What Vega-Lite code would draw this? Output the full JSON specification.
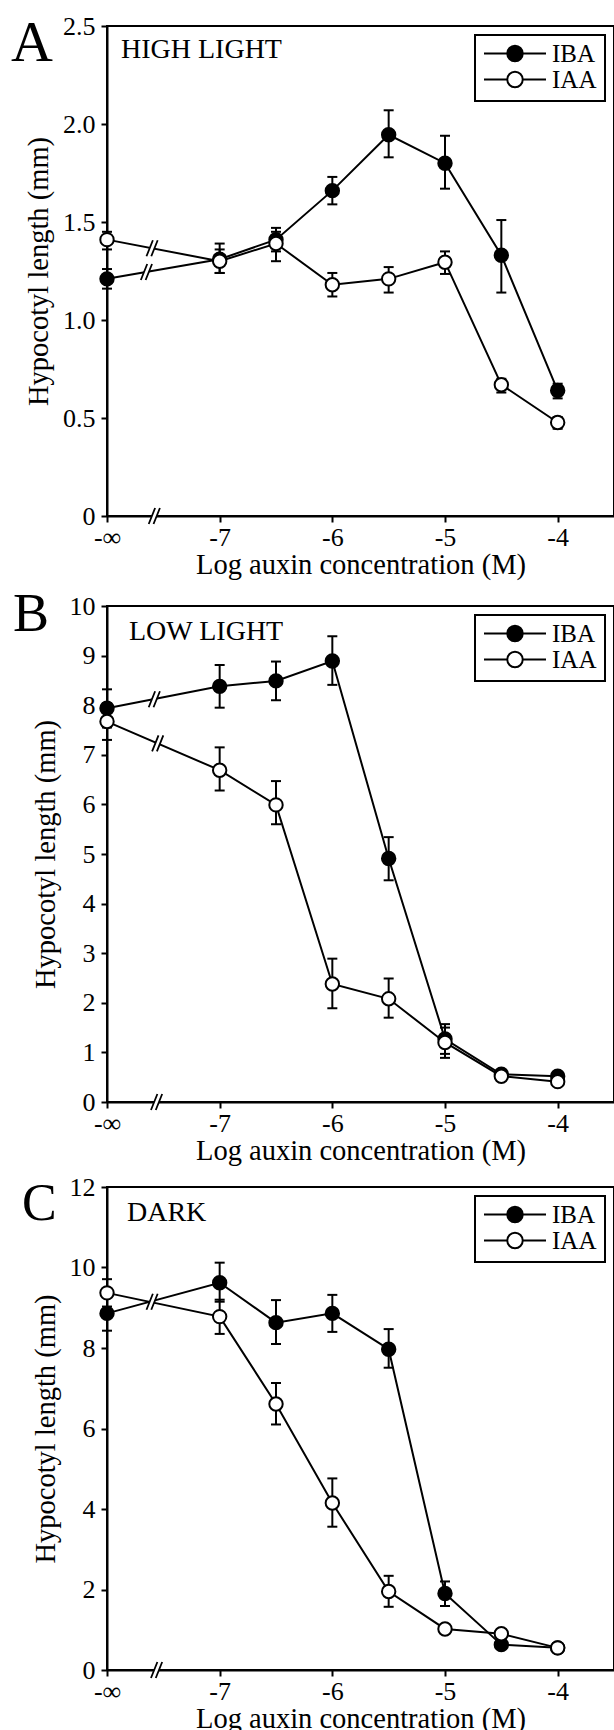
{
  "$schema": "https://vega.github.io/schema/vega-lite/v6.json",
  "background": "white",
  "padding": {"left": 10, "top": 12, "right": 0, "bottom": 0},
  "datasets": {
    "pts": [
      {"panel": "A", "series": "IBA", "x": -8, "y": 1.21, "lo": 1.16, "hi": 1.26},
      {"panel": "A", "series": "IBA", "x": -7, "y": 1.31, "lo": 1.24, "hi": 1.39},
      {"panel": "A", "series": "IBA", "x": -6.5, "y": 1.41, "lo": 1.35, "hi": 1.47},
      {"panel": "A", "series": "IBA", "x": -6, "y": 1.66, "lo": 1.59, "hi": 1.73},
      {"panel": "A", "series": "IBA", "x": -5.5, "y": 1.945, "lo": 1.83, "hi": 2.07},
      {"panel": "A", "series": "IBA", "x": -5, "y": 1.8, "lo": 1.67, "hi": 1.94},
      {"panel": "A", "series": "IBA", "x": -4.5, "y": 1.33, "lo": 1.14, "hi": 1.51},
      {"panel": "A", "series": "IBA", "x": -4, "y": 0.64, "lo": 0.6, "hi": 0.675},
      {"panel": "A", "series": "IAA", "x": -8, "y": 1.41, "lo": 1.36, "hi": 1.45},
      {"panel": "A", "series": "IAA", "x": -7, "y": 1.3, "lo": 1.24, "hi": 1.36},
      {"panel": "A", "series": "IAA", "x": -6.5, "y": 1.39, "lo": 1.3, "hi": 1.45},
      {"panel": "A", "series": "IAA", "x": -6, "y": 1.18, "lo": 1.12, "hi": 1.24},
      {"panel": "A", "series": "IAA", "x": -5.5, "y": 1.21, "lo": 1.14, "hi": 1.27},
      {"panel": "A", "series": "IAA", "x": -5, "y": 1.295, "lo": 1.235, "hi": 1.35},
      {"panel": "A", "series": "IAA", "x": -4.5, "y": 0.67, "lo": 0.63, "hi": 0.7},
      {"panel": "A", "series": "IAA", "x": -4, "y": 0.477, "lo": 0.445, "hi": 0.505},
      {"panel": "B", "series": "IBA", "x": -8, "y": 7.94, "lo": 7.55, "hi": 8.32},
      {"panel": "B", "series": "IBA", "x": -7, "y": 8.38, "lo": 7.95, "hi": 8.81},
      {"panel": "B", "series": "IBA", "x": -6.5, "y": 8.49, "lo": 8.1, "hi": 8.88},
      {"panel": "B", "series": "IBA", "x": -6, "y": 8.89, "lo": 8.41, "hi": 9.39},
      {"panel": "B", "series": "IBA", "x": -5.5, "y": 4.91, "lo": 4.47, "hi": 5.34},
      {"panel": "B", "series": "IBA", "x": -5, "y": 1.27, "lo": 0.97, "hi": 1.57},
      {"panel": "B", "series": "IBA", "x": -4.5, "y": 0.56, "lo": 0.52, "hi": 0.6},
      {"panel": "B", "series": "IBA", "x": -4, "y": 0.52, "lo": 0.48, "hi": 0.56},
      {"panel": "B", "series": "IAA", "x": -8, "y": 7.67, "lo": 7.3, "hi": 8.04},
      {"panel": "B", "series": "IAA", "x": -7, "y": 6.69, "lo": 6.28, "hi": 7.15},
      {"panel": "B", "series": "IAA", "x": -6.5, "y": 5.99, "lo": 5.6, "hi": 6.47},
      {"panel": "B", "series": "IAA", "x": -6, "y": 2.38, "lo": 1.89, "hi": 2.89},
      {"panel": "B", "series": "IAA", "x": -5.5, "y": 2.08, "lo": 1.7, "hi": 2.49},
      {"panel": "B", "series": "IAA", "x": -5, "y": 1.2, "lo": 0.89, "hi": 1.5},
      {"panel": "B", "series": "IAA", "x": -4.5, "y": 0.52, "lo": 0.48, "hi": 0.56},
      {"panel": "B", "series": "IAA", "x": -4, "y": 0.41, "lo": 0.37, "hi": 0.45},
      {"panel": "C", "series": "IBA", "x": -8, "y": 8.86, "lo": 8.43, "hi": 9.29},
      {"panel": "C", "series": "IBA", "x": -7, "y": 9.62, "lo": 9.15, "hi": 10.12},
      {"panel": "C", "series": "IBA", "x": -6.5, "y": 8.63, "lo": 8.1, "hi": 9.19},
      {"panel": "C", "series": "IBA", "x": -6, "y": 8.86, "lo": 8.4, "hi": 9.32},
      {"panel": "C", "series": "IBA", "x": -5.5, "y": 7.97, "lo": 7.51, "hi": 8.47},
      {"panel": "C", "series": "IBA", "x": -5, "y": 1.9, "lo": 1.59, "hi": 2.2},
      {"panel": "C", "series": "IBA", "x": -4.5, "y": 0.63, "lo": 0.6, "hi": 0.66},
      {"panel": "C", "series": "IBA", "x": -4, "y": 0.55, "lo": 0.55, "hi": 0.55},
      {"panel": "C", "series": "IAA", "x": -8, "y": 9.37, "lo": 9.03, "hi": 9.71},
      {"panel": "C", "series": "IAA", "x": -7, "y": 8.78, "lo": 8.35, "hi": 9.2},
      {"panel": "C", "series": "IAA", "x": -6.5, "y": 6.61, "lo": 6.1, "hi": 7.13},
      {"panel": "C", "series": "IAA", "x": -6, "y": 4.15, "lo": 3.56, "hi": 4.76},
      {"panel": "C", "series": "IAA", "x": -5.5, "y": 1.95, "lo": 1.57, "hi": 2.34},
      {"panel": "C", "series": "IAA", "x": -5, "y": 1.02, "lo": 1.02, "hi": 1.02},
      {"panel": "C", "series": "IAA", "x": -4.5, "y": 0.9, "lo": 0.9, "hi": 0.9},
      {"panel": "C", "series": "IAA", "x": -4, "y": 0.55, "lo": 0.55, "hi": 0.55}
    ],
    "brk": [
      {"panel": "A", "x": -7.58, "y": 0},
      {"panel": "A", "x": -7.6, "y": 1.366},
      {"panel": "A", "x": -7.65, "y": 1.245},
      {"panel": "B", "x": -7.56, "y": 0},
      {"panel": "B", "x": -7.58, "y": 8.12},
      {"panel": "B", "x": -7.55, "y": 7.23},
      {"panel": "C", "x": -7.56, "y": 0},
      {"panel": "C", "x": -7.6, "y": 9.15}
    ],
    "notes": [
      {"panel": "A", "role": "letter", "label": "A"},
      {"panel": "A", "role": "note", "label": "HIGH LIGHT"},
      {"panel": "B", "role": "letter", "label": "B"},
      {"panel": "B", "role": "note", "label": "LOW LIGHT"},
      {"panel": "C", "role": "letter", "label": "C"},
      {"panel": "C", "role": "note", "label": "DARK"}
    ]
  },
  "spacing": 7,
  "resolve": {"scale": {"y": "independent", "fill": "independent"}, "legend": {"fill": "independent"}},
  "vconcat": [
    {
      "width": 507, "height": 490,
      "layer": [
        {"data": {"name": "pts"}, "transform": [{"filter": "datum.panel == 'A'"}],
         "mark": {"type": "line", "color": "black", "strokeWidth": 2},
         "encoding": {"x": {"field": "x", "type": "quantitative", "title": "Log auxin concentration (M)",
                            "scale": {"domain": [-8, -3.5], "nice": false, "zero": false},
                            "axis": {"values": [-8, -7, -6, -5, -4], "labelExpr": "datum.value == -8 ? '-∞' : '-' + abs(datum.value)"}},
                      "y": {"field": "y", "type": "quantitative", "title": "Hypocotyl length (mm)",
                            "scale": {"domain": [0, 2.5], "nice": false},
                            "axis": {"values": [0, 0.5, 1, 1.5, 2, 2.5], "labelExpr": "datum.value == 0 ? '0' : format(datum.value, '.1f')"}},
                      "detail": {"field": "series"}}},
        {"data": {"name": "pts"}, "transform": [{"filter": "datum.panel == 'A'"}],
         "mark": {"type": "rule", "color": "black", "strokeWidth": 2},
         "encoding": {"x": {"field": "x", "type": "quantitative", "title": "Log auxin concentration (M)"},
                      "y": {"field": "lo", "type": "quantitative", "title": "Hypocotyl length (mm)"}, "y2": {"field": "hi"}}},
        {"data": {"name": "pts"}, "transform": [{"filter": "datum.panel == 'A'"}, {"fold": ["lo", "hi"], "as": ["end", "v"]}],
         "mark": {"type": "point", "shape": "M-1,0L1,0", "size": 100, "filled": false, "stroke": "black", "strokeWidth": 2, "opacity": 1},
         "encoding": {"x": {"field": "x", "type": "quantitative", "title": "Log auxin concentration (M)"},
                      "y": {"field": "v", "type": "quantitative", "title": "Hypocotyl length (mm)"}}},
        {"data": {"name": "brk"}, "transform": [{"filter": "datum.panel == 'A'"}],
         "mark": {"type": "point", "shape": "M-0.7,1L0.1,-1L0.7,-1L-0.1,1Z", "size": 256, "filled": true, "fill": "white", "strokeWidth": 0, "opacity": 1},
         "encoding": {"x": {"field": "x", "type": "quantitative", "title": "Log auxin concentration (M)"},
                      "y": {"field": "y", "type": "quantitative", "title": "Hypocotyl length (mm)"}}},
        {"data": {"name": "brk"}, "transform": [{"filter": "datum.panel == 'A'"}],
         "mark": {"type": "point", "shape": "M-0.7,1L0.1,-1M-0.1,1L0.7,-1", "size": 256, "filled": false, "stroke": "black", "strokeWidth": 1.8, "opacity": 1},
         "encoding": {"x": {"field": "x", "type": "quantitative", "title": "Log auxin concentration (M)"},
                      "y": {"field": "y", "type": "quantitative", "title": "Hypocotyl length (mm)"}}},
        {"data": {"name": "pts"}, "transform": [{"filter": "datum.panel == 'A'"}],
         "mark": {"type": "point", "shape": "circle", "size": 180, "filled": true, "stroke": "black", "strokeWidth": 2, "opacity": 1},
         "encoding": {"x": {"field": "x", "type": "quantitative", "title": "Log auxin concentration (M)"},
                      "y": {"field": "y", "type": "quantitative", "title": "Hypocotyl length (mm)"},
                      "fill": {"field": "series", "type": "nominal", "scale": {"domain": ["IBA", "IAA"], "range": ["black", "white"]}, "legend": {"title": null}}}},
        {"data": {"name": "notes"}, "transform": [{"filter": "datum.panel == 'A' && datum.role == 'letter'"}],
         "mark": {"type": "text", "fontSize": 58, "align": "left", "baseline": "alphabetic", "dx": -96, "dy": 35},
         "encoding": {"x": {"datum": -8, "type": "quantitative"}, "y": {"datum": 2.5, "type": "quantitative"}, "text": {"field": "label"}}},
        {"data": {"name": "notes"}, "transform": [{"filter": "datum.panel == 'A' && datum.role == 'note'"}],
         "mark": {"type": "text", "fontSize": 28, "align": "left", "baseline": "alphabetic", "dx": 14, "dy": 32},
         "encoding": {"x": {"datum": -8, "type": "quantitative"}, "y": {"datum": 2.5, "type": "quantitative"}, "text": {"field": "label"}}}
      ]
    },
    {
      "width": 507, "height": 496,
      "layer": [
        {"data": {"name": "pts"}, "transform": [{"filter": "datum.panel == 'B'"}],
         "mark": {"type": "line", "color": "black", "strokeWidth": 2},
         "encoding": {"x": {"field": "x", "type": "quantitative", "title": "Log auxin concentration (M)",
                            "scale": {"domain": [-8, -3.5], "nice": false, "zero": false},
                            "axis": {"values": [-8, -7, -6, -5, -4], "labelExpr": "datum.value == -8 ? '-∞' : '-' + abs(datum.value)"}},
                      "y": {"field": "y", "type": "quantitative", "title": "Hypocotyl length (mm)",
                            "scale": {"domain": [0, 10], "nice": false},
                            "axis": {"values": [0, 1, 2, 3, 4, 5, 6, 7, 8, 9, 10]}},
                      "detail": {"field": "series"}}},
        {"data": {"name": "pts"}, "transform": [{"filter": "datum.panel == 'B'"}],
         "mark": {"type": "rule", "color": "black", "strokeWidth": 2},
         "encoding": {"x": {"field": "x", "type": "quantitative", "title": "Log auxin concentration (M)"},
                      "y": {"field": "lo", "type": "quantitative", "title": "Hypocotyl length (mm)"}, "y2": {"field": "hi"}}},
        {"data": {"name": "pts"}, "transform": [{"filter": "datum.panel == 'B'"}, {"fold": ["lo", "hi"], "as": ["end", "v"]}],
         "mark": {"type": "point", "shape": "M-1,0L1,0", "size": 100, "filled": false, "stroke": "black", "strokeWidth": 2, "opacity": 1},
         "encoding": {"x": {"field": "x", "type": "quantitative", "title": "Log auxin concentration (M)"},
                      "y": {"field": "v", "type": "quantitative", "title": "Hypocotyl length (mm)"}}},
        {"data": {"name": "brk"}, "transform": [{"filter": "datum.panel == 'B'"}],
         "mark": {"type": "point", "shape": "M-0.7,1L0.1,-1L0.7,-1L-0.1,1Z", "size": 256, "filled": true, "fill": "white", "strokeWidth": 0, "opacity": 1},
         "encoding": {"x": {"field": "x", "type": "quantitative", "title": "Log auxin concentration (M)"},
                      "y": {"field": "y", "type": "quantitative", "title": "Hypocotyl length (mm)"}}},
        {"data": {"name": "brk"}, "transform": [{"filter": "datum.panel == 'B'"}],
         "mark": {"type": "point", "shape": "M-0.7,1L0.1,-1M-0.1,1L0.7,-1", "size": 256, "filled": false, "stroke": "black", "strokeWidth": 1.8, "opacity": 1},
         "encoding": {"x": {"field": "x", "type": "quantitative", "title": "Log auxin concentration (M)"},
                      "y": {"field": "y", "type": "quantitative", "title": "Hypocotyl length (mm)"}}},
        {"data": {"name": "pts"}, "transform": [{"filter": "datum.panel == 'B'"}],
         "mark": {"type": "point", "shape": "circle", "size": 180, "filled": true, "stroke": "black", "strokeWidth": 2, "opacity": 1},
         "encoding": {"x": {"field": "x", "type": "quantitative", "title": "Log auxin concentration (M)"},
                      "y": {"field": "y", "type": "quantitative", "title": "Hypocotyl length (mm)"},
                      "fill": {"field": "series", "type": "nominal", "scale": {"domain": ["IBA", "IAA"], "range": ["black", "white"]}, "legend": {"title": null}}}},
        {"data": {"name": "notes"}, "transform": [{"filter": "datum.panel == 'B' && datum.role == 'letter'"}],
         "mark": {"type": "text", "fontSize": 54, "align": "left", "baseline": "alphabetic", "dx": -94, "dy": 25},
         "encoding": {"x": {"datum": -8, "type": "quantitative"}, "y": {"datum": 10, "type": "quantitative"}, "text": {"field": "label"}}},
        {"data": {"name": "notes"}, "transform": [{"filter": "datum.panel == 'B' && datum.role == 'note'"}],
         "mark": {"type": "text", "fontSize": 28, "align": "left", "baseline": "alphabetic", "dx": 22, "dy": 34},
         "encoding": {"x": {"datum": -8, "type": "quantitative"}, "y": {"datum": 10, "type": "quantitative"}, "text": {"field": "label"}}}
      ]
    },
    {
      "width": 507, "height": 483,
      "layer": [
        {"data": {"name": "pts"}, "transform": [{"filter": "datum.panel == 'C'"}],
         "mark": {"type": "line", "color": "black", "strokeWidth": 2},
         "encoding": {"x": {"field": "x", "type": "quantitative", "title": "Log auxin concentration (M)",
                            "scale": {"domain": [-8, -3.5], "nice": false, "zero": false},
                            "axis": {"values": [-8, -7, -6, -5, -4], "labelExpr": "datum.value == -8 ? '-∞' : '-' + abs(datum.value)"}},
                      "y": {"field": "y", "type": "quantitative", "title": "Hypocotyl length (mm)",
                            "scale": {"domain": [0, 12], "nice": false},
                            "axis": {"values": [0, 2, 4, 6, 8, 10, 12]}},
                      "detail": {"field": "series"}}},
        {"data": {"name": "pts"}, "transform": [{"filter": "datum.panel == 'C'"}],
         "mark": {"type": "rule", "color": "black", "strokeWidth": 2},
         "encoding": {"x": {"field": "x", "type": "quantitative", "title": "Log auxin concentration (M)"},
                      "y": {"field": "lo", "type": "quantitative", "title": "Hypocotyl length (mm)"}, "y2": {"field": "hi"}}},
        {"data": {"name": "pts"}, "transform": [{"filter": "datum.panel == 'C'"}, {"fold": ["lo", "hi"], "as": ["end", "v"]}],
         "mark": {"type": "point", "shape": "M-1,0L1,0", "size": 100, "filled": false, "stroke": "black", "strokeWidth": 2, "opacity": 1},
         "encoding": {"x": {"field": "x", "type": "quantitative", "title": "Log auxin concentration (M)"},
                      "y": {"field": "v", "type": "quantitative", "title": "Hypocotyl length (mm)"}}},
        {"data": {"name": "brk"}, "transform": [{"filter": "datum.panel == 'C'"}],
         "mark": {"type": "point", "shape": "M-0.7,1L0.1,-1L0.7,-1L-0.1,1Z", "size": 256, "filled": true, "fill": "white", "strokeWidth": 0, "opacity": 1},
         "encoding": {"x": {"field": "x", "type": "quantitative", "title": "Log auxin concentration (M)"},
                      "y": {"field": "y", "type": "quantitative", "title": "Hypocotyl length (mm)"}}},
        {"data": {"name": "brk"}, "transform": [{"filter": "datum.panel == 'C'"}],
         "mark": {"type": "point", "shape": "M-0.7,1L0.1,-1M-0.1,1L0.7,-1", "size": 256, "filled": false, "stroke": "black", "strokeWidth": 1.8, "opacity": 1},
         "encoding": {"x": {"field": "x", "type": "quantitative", "title": "Log auxin concentration (M)"},
                      "y": {"field": "y", "type": "quantitative", "title": "Hypocotyl length (mm)"}}},
        {"data": {"name": "pts"}, "transform": [{"filter": "datum.panel == 'C'"}],
         "mark": {"type": "point", "shape": "circle", "size": 180, "filled": true, "stroke": "black", "strokeWidth": 2, "opacity": 1},
         "encoding": {"x": {"field": "x", "type": "quantitative", "title": "Log auxin concentration (M)"},
                      "y": {"field": "y", "type": "quantitative", "title": "Hypocotyl length (mm)"},
                      "fill": {"field": "series", "type": "nominal", "scale": {"domain": ["IBA", "IAA"], "range": ["black", "white"]}, "legend": {"title": null}}}},
        {"data": {"name": "notes"}, "transform": [{"filter": "datum.panel == 'C' && datum.role == 'letter'"}],
         "mark": {"type": "text", "fontSize": 52, "align": "left", "baseline": "alphabetic", "dx": -85, "dy": 33},
         "encoding": {"x": {"datum": -8, "type": "quantitative"}, "y": {"datum": 12, "type": "quantitative"}, "text": {"field": "label"}}},
        {"data": {"name": "notes"}, "transform": [{"filter": "datum.panel == 'C' && datum.role == 'note'"}],
         "mark": {"type": "text", "fontSize": 28, "align": "left", "baseline": "alphabetic", "dx": 20, "dy": 34},
         "encoding": {"x": {"datum": -8, "type": "quantitative"}, "y": {"datum": 12, "type": "quantitative"}, "text": {"field": "label"}}}
      ]
    }
  ],
  "config": {
    "view": {"stroke": "black", "strokeWidth": 2},
    "text": {"font": "Liberation Serif", "color": "black"},
    "axis": {"domainColor": "black", "domainWidth": 2, "tickColor": "black", "tickWidth": 2, "tickSize": 6,
             "labelFont": "Liberation Serif", "labelFontSize": 26, "labelColor": "black",
             "labelFlush": false, "labelOverlap": false,
             "titleFont": "Liberation Serif", "titleFontSize": 28.5, "titleFontWeight": "normal", "titleColor": "black", "grid": false},
    "axisX": {"labelPadding": 2, "titlePadding": 0},
    "axisY": {"labelPadding": 6, "titlePadding": 9},
    "legend": {"orient": "top-right", "offset": 9, "strokeColor": "black", "strokeWidth": 2, "padding": 8,
               "labelFont": "Liberation Serif", "labelFontSize": 25, "labelColor": "black", "labelOffset": 5,
               "rowPadding": 0, "clipHeight": 21, "symbolType": "M-1,0L-0.25,0M0.25,0L1,0M0.25,0A0.25,0.25,0,1,1,-0.25,0A0.25,0.25,0,1,1,0.25,0Z",
               "symbolSize": 3844, "symbolStrokeColor": "black", "symbolStrokeWidth": 2, "symbolOpacity": 1}
  }
}
